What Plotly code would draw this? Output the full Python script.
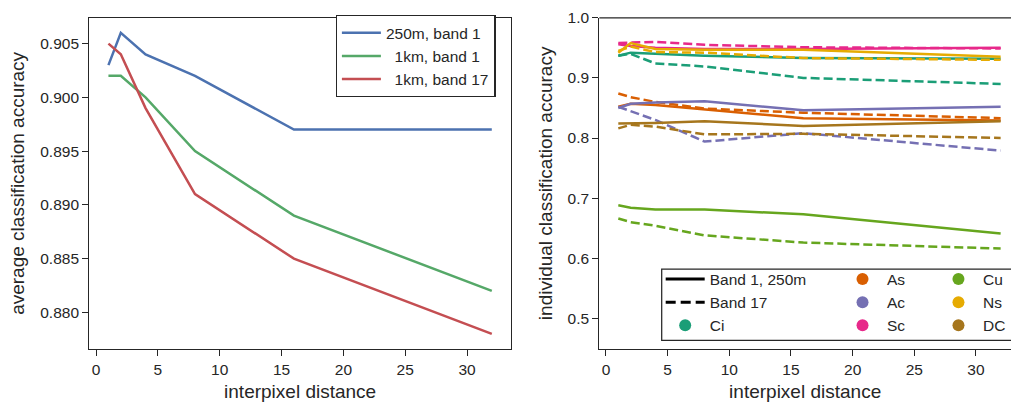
import plotly.graph_objects as go

# interpixel distances used for every curve
distance = [1, 2, 4, 8, 16, 32]

# left panel: average classification accuracy
avg_labels = ["250m, band 1", "\u00a0\u00a01km, band 1", "\u00a0\u00a01km, band 17"]
avg_250m_b1 = [0.903, 0.906, 0.904, 0.902, 0.897, 0.897]
avg_1km_b1 = [0.902, 0.902, 0.900, 0.895, 0.889, 0.882]
avg_1km_b17 = [0.905, 0.904, 0.899, 0.891, 0.885, 0.878]
avg_colors = ["#4c72b0", "#55a868", "#c44e52"]

# right panel: per-class accuracy (band 1 at 250m, and band 17)
classes = ["Ci", "As", "Ac", "Sc", "Cu", "Ns", "DC"]
class_colors = ["#1b9e77", "#d95f02", "#7570b3", "#e7298a", "#66a61e", "#e6ab02", "#a6761d"]
band1_250m = {
    "Ci": [0.937, 0.942, 0.940, 0.937, 0.933, 0.932],
    "As": [0.852, 0.857, 0.855, 0.848, 0.833, 0.829],
    "Ac": [0.850, 0.857, 0.859, 0.861, 0.846, 0.852],
    "Sc": [0.956, 0.953, 0.950, 0.948, 0.948, 0.950],
    "Cu": [0.688, 0.684, 0.681, 0.681, 0.673, 0.641],
    "Ns": [0.942, 0.958, 0.948, 0.947, 0.947, 0.935],
    "DC": [0.824, 0.824, 0.825, 0.828, 0.820, 0.828],
}
band17 = {
    "Ci": [0.937, 0.940, 0.924, 0.919, 0.900, 0.890],
    "As": [0.874, 0.868, 0.860, 0.849, 0.842, 0.833],
    "Ac": [0.852, 0.845, 0.830, 0.794, 0.808, 0.779],
    "Sc": [0.958, 0.959, 0.960, 0.955, 0.951, 0.949],
    "Cu": [0.666, 0.660, 0.654, 0.638, 0.626, 0.616],
    "Ns": [0.945, 0.952, 0.943, 0.942, 0.933, 0.930],
    "DC": [0.816, 0.822, 0.819, 0.806, 0.807, 0.800],
}

left_ticks = [0.880, 0.885, 0.890, 0.895, 0.900, 0.905]
right_ticks = [0.5, 0.6, 0.7, 0.8, 0.9, 1.0]
x_ticks = [0, 5, 10, 15, 20, 25, 30]

INK = "#262626"
FONT = "Liberation Sans, Arial, sans-serif"
LW = 2.5
DASH = "9px,4px"

fig = go.Figure()

for label, ys, col in zip(avg_labels, [avg_250m_b1, avg_1km_b1, avg_1km_b17], avg_colors):
    fig.add_trace(go.Scatter(x=distance, y=ys, mode="lines", name=label,
                             line=dict(color=col, width=LW),
                             xaxis="x", yaxis="y", legend="legend"))

for cls, col in zip(classes, class_colors):
    fig.add_trace(go.Scatter(x=distance, y=band1_250m[cls], mode="lines",
                             line=dict(color=col, width=LW), showlegend=False,
                             xaxis="x2", yaxis="y2"))
    fig.add_trace(go.Scatter(x=distance, y=band17[cls], mode="lines",
                             line=dict(color=col, width=LW, dash=DASH), showlegend=False,
                             xaxis="x2", yaxis="y2"))

# legend entries for the right panel, laid out in three columns
fig.add_trace(go.Scatter(x=[None], y=[None], mode="lines", name="Band 1, 250m",
                         line=dict(color="black", width=3), xaxis="x2", yaxis="y2",
                         legend="legend2"))
fig.add_trace(go.Scatter(x=[None], y=[None], mode="lines", name="Band 17",
                         line=dict(color="black", width=3, dash="10px,5px"),
                         xaxis="x2", yaxis="y2", legend="legend2"))
class_legend = ["legend2", "legend3", "legend3", "legend3",
                "legend4", "legend4", "legend4"]
for cls, col, lg in zip(classes, class_colors, class_legend):
    fig.add_trace(go.Scatter(x=[None], y=[None], mode="markers", name=cls,
                             marker=dict(color=col, size=12), xaxis="x2", yaxis="y2",
                             legend=lg))

axis_common = dict(
    showline=True, linecolor=INK, linewidth=1.25,
    ticks="outside", ticklen=6, tickwidth=1.25, tickcolor=INK,
    showgrid=False, zeroline=False,
    tickfont=dict(family=FONT, size=15.5, color=INK),
)
title_font = dict(family=FONT, size=19, color=INK)

legend_common = dict(
    font=dict(family=FONT, size=15.5, color=INK),
    bgcolor="rgba(0,0,0,0)", borderwidth=0, itemwidth=39,
    yanchor="top", xanchor="left", tracegroupgap=0,
)

fig.update_layout(
    width=1011, height=405,
    margin=dict(l=0, r=0, t=0, b=0),
    paper_bgcolor="white", plot_bgcolor="white",
    font=dict(family=FONT, color=INK),
    xaxis=dict(axis_common, domain=[0.0883, 0.5054], range=[-0.55, 33.55],
               tickvals=x_ticks, mirror=True, anchor="y",
               title=dict(text="interpixel distance", font=title_font, standoff=8)),
    yaxis=dict(axis_common, domain=[0.1415, 0.9778], range=[0.8766, 0.9074],
               tickvals=left_ticks, tickformat=".3f", mirror=True, anchor="x",
               title=dict(text="average classification accuracy", font=title_font, standoff=10)),
    xaxis2=dict(axis_common, domain=[0.5928, 1.0], range=[-0.54, 32.84],
                tickvals=x_ticks, anchor="y2",
                title=dict(text="interpixel distance", font=title_font, standoff=8)),
    yaxis2=dict(axis_common, domain=[0.1415, 0.9778], range=[0.449, 1.0],
                tickvals=right_ticks, tickformat=".1f", anchor="x2",
                title=dict(text="individual classification accuracy", font=title_font, standoff=9)),
    legend=dict(legend_common, x=0.332, y=0.985, bgcolor="white",
                bordercolor=INK, borderwidth=1.25, entrywidth=110, entrywidthmode="pixels"),
    legend2=dict(legend_common, x=0.6535, y=0.36),
    legend3=dict(legend_common, x=0.8289, y=0.36),
    legend4=dict(legend_common, x=0.9238, y=0.36),
    shapes=[
        # top spine of the right panel
        dict(type="line", xref="x2 domain", yref="y2 domain", x0=0, x1=1.01, y0=1, y1=1,
             line=dict(color=INK, width=1.25)),
        # frame around the right legend
        dict(type="rect", xref="paper", yref="paper", x0=0.6545, x1=1.01, y0=0.163, y1=0.3432,
             line=dict(color=INK, width=1.25), fillcolor="white", layer="below"),
    ],
)

fig.write_html("out.html")
